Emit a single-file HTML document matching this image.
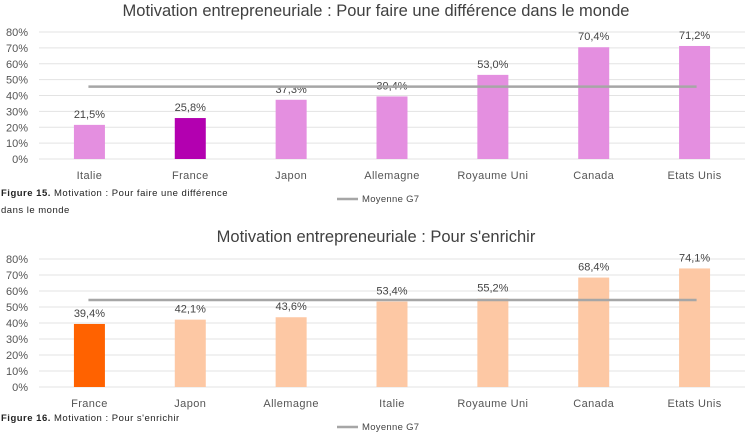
<!DOCTYPE html>
<html><head><meta charset="utf-8"><style>
body{margin:0;background:#fff;width:754px;height:442px;overflow:hidden;font-family:"Liberation Sans",sans-serif}
svg{display:block}
</style></head><body>
<svg id="s" width="754" height="442" xmlns="http://www.w3.org/2000/svg">
<text x="376" y="16" text-anchor="middle" font-size="16.5" fill="#404040">Motivation entrepreneuriale : Pour faire une différence dans le monde</text>
<text x="376" y="242" text-anchor="middle" font-size="16.5" fill="#404040">Motivation entrepreneuriale : Pour s'enrichir</text>
<text x="1" y="196" font-size="9.5" letter-spacing="0.5" fill="#222"><tspan font-weight="bold">Figure 15.</tspan>  Motivation : Pour faire une différence</text>
<text x="1" y="213" font-size="9.5" letter-spacing="0.5" fill="#222">dans le monde</text>
<text x="1" y="421" font-size="9.5" letter-spacing="0.5" fill="#222"><tspan font-weight="bold">Figure 16.</tspan>  Motivation : Pour s'enrichir</text>
<g id="c1"></g>
<g id="c2"></g>
</svg>
<script>
const cats1=["Italie","France","Japon","Allemagne","Royaume Uni","Canada","Etats Unis"];
const vals1=[21.5,25.8,37.3,39.4,53.0,70.4,71.2];
const avg1=45.6;
const cats2=["France","Japon","Allemagne","Italie","Royaume Uni","Canada","Etats Unis"];
const vals2=[39.4,42.1,43.6,53.4,55.2,68.4,74.1];
const avg2=54.4;
const ticks=[0,10,20,30,40,50,60,70,80];
const NS="http://www.w3.org/2000/svg";
function mk(g,t,a,txt){const e=document.createElementNS(NS,t);for(const k in a)e.setAttribute(k,a[k]);if(txt!=null)e.textContent=txt;g.appendChild(e);return e;}
function draw(id,cats,vals,avg,y0,y80,light,dark,hi,legY,xlabY){
 const g=document.getElementById(id);
 const x0=39,x1=745,step=(x1-x0)/cats.length;
 const y=v=>y0-(y0-y80)*v/80;
 const xc=i=>x0+step*(i+0.5);
 ticks.forEach(t=>{
  const l=mk(g,"line",{x1:x0,x2:x1,y1:y(t),y2:y(t),stroke:"#e3e3e3","stroke-width":1});
  
  
  const tx=mk(g,"text",{x:28,y:y(t)+4,"text-anchor":"end","font-size":"11",fill:"#555"},t+"%");
  
  
 });
 cats.forEach((c,i)=>{
  const b=mk(g,"rect",{x:xc(i)-15.5,y:y(vals[i]),width:31,height:y0-y(vals[i]),fill:i===hi?dark:light});
  
  
  const v=mk(g,"text",{x:xc(i),y:y(vals[i])-7,"text-anchor":"middle","font-size":"11",fill:"#444"},vals[i].toFixed(1).replace(".",",")+"%");
  
  
  const xl=mk(g,"text",{x:xc(i),y:xlabY,"text-anchor":"middle","font-size":"11","letter-spacing":"0.4",fill:"#555"},c);
  
  
 });
 const a=mk(g,"line",{x1:xc(0)-1,x2:xc(cats.length-1)+2,y1:y(avg),y2:y(avg),stroke:"#a6a6a6","stroke-width":2.5});
 
 
 const ll=mk(g,"line",{x1:337,x2:358,y1:legY,y2:legY,stroke:"#a6a6a6","stroke-width":2.5});
 
 
 const lt=mk(g,"text",{x:362,y:legY+3,"font-size":"9.5","letter-spacing":"0.3",fill:"#444"},"Moyenne G7");
 
 
}
draw("c1",cats1,vals1,avg1,159,32,"#e48fe0","#b300b0",1,199,179);
draw("c2",cats2,vals2,avg2,387,259,"#fdc8a4","#ff6200",0,427,407);
</script>
</body></html>
